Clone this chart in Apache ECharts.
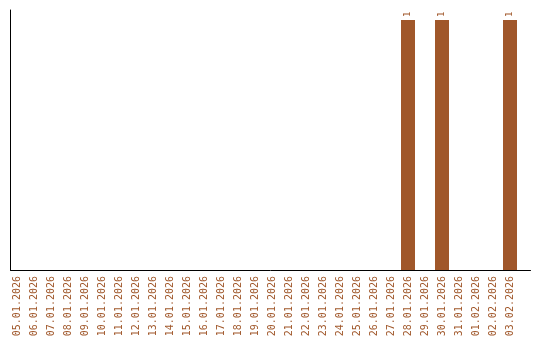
<!DOCTYPE html>
<html>
<head>
<meta charset="utf-8">
<script src="https://cdn.jsdelivr.net/npm/echarts@6/dist/echarts.min.js"></script>
<style>html,body{margin:0;padding:0;background:#fff;}#c{width:540px;height:340px;}</style>
</head>
<body>
<div id="c"></div>
<script>
const categories = ['05.01.2026','06.01.2026','07.01.2026','08.01.2026','09.01.2026','10.01.2026','11.01.2026','12.01.2026','13.01.2026','14.01.2026','15.01.2026','16.01.2026','17.01.2026','18.01.2026','19.01.2026','20.01.2026','21.01.2026','22.01.2026','23.01.2026','24.01.2026','25.01.2026','26.01.2026','27.01.2026','28.01.2026','29.01.2026','30.01.2026','31.01.2026','01.02.2026','02.02.2026','03.02.2026'];
const values = [0,0,0,0,0,0,0,0,0,0,0,0,0,0,0,0,0,0,0,0,0,0,0,1,0,1,0,0,0,1];
const color = '#a0572a';
const font = 'DejaVu Sans Mono';
const chart = echarts.init(document.getElementById('c'));
chart.setOption({
  animation: false,
  grid: [
    {left: 8.5, width: 510, top: 10, bottom: 70, containLabel: false},
    {left: 10.5, right: 9.5, top: 10, bottom: 70, containLabel: false}
  ],
  xAxis: [
    {type: 'category', data: categories, gridIndex: 0,
     axisLine: {show: false}, axisTick: {show: false},
     axisLabel: {rotate: 90, interval: 0, margin: 6, color: color, fontFamily: font, fontSize: 10}},
    {type: 'value', gridIndex: 1, min: 0, max: 1,
     axisLine: {show: true, lineStyle: {color: '#000', width: 1}}, axisTick: {show: false},
     axisLabel: {show: false}, splitLine: {show: false}}
  ],
  yAxis: [
    {type: 'value', gridIndex: 0, min: 0, max: 1.04,
     axisLine: {show: false}, axisTick: {show: false}, axisLabel: {show: false}, splitLine: {show: false}},
    {type: 'value', gridIndex: 1, min: 0, max: 1,
     axisLine: {show: true, lineStyle: {color: '#000', width: 1}}, axisTick: {show: false},
     axisLabel: {show: false}, splitLine: {show: false}}
  ],
  series: [{
    type: 'bar', xAxisIndex: 0, yAxisIndex: 0, data: values, barWidth: 14,
    itemStyle: {color: color},
    label: {show: true, position: 'top', rotate: 90, align: 'left', verticalAlign: 'middle', distance: 3,
      color: color, fontFamily: font, fontSize: 9,
      formatter: p => p.value > 0 ? String(p.value) : ''}
  }]
});
</script>
</body>
</html>
